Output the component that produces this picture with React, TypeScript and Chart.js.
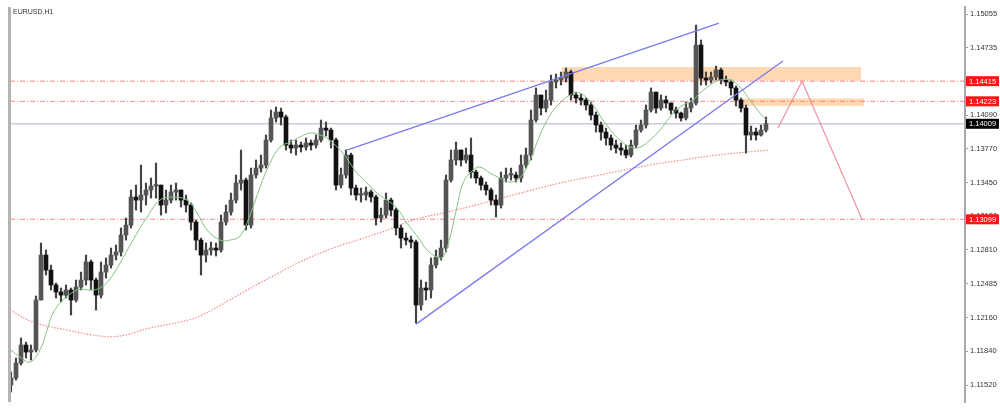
import React, { useEffect, useRef } from "react";
import { Chart, registerables } from "chart.js";

Chart.register(...registerables);

const symbolTitle = "EURUSD,H1";

// Candles (bar index 0..151). Open of each bar = previous close.
const firstOpen = 1.1152;
const closes = [
  1.11586, 1.11729, 1.11901, 1.11834, 1.11853, 1.1233, 1.12758, 1.12615, 1.12473, 1.12406,
  1.12377, 1.12425, 1.1233, 1.12453, 1.1252, 1.12692, 1.1252, 1.12377, 1.12596, 1.12663,
  1.12758, 1.12787, 1.12949, 1.13044, 1.13311, 1.13282, 1.1333, 1.13378, 1.13416, 1.13425,
  1.13235, 1.13282, 1.13359, 1.13378, 1.13282, 1.13235, 1.13073, 1.12901, 1.12758, 1.12806,
  1.12825, 1.12806, 1.13073, 1.13168, 1.13282, 1.13444, 1.13473, 1.13044, 1.13521, 1.13587,
  1.13616, 1.13854, 1.14064, 1.14121, 1.14073, 1.13806, 1.13778, 1.13806, 1.13787, 1.13826,
  1.13806, 1.13854, 1.13968, 1.13949, 1.13854, 1.13425, 1.13521, 1.13711, 1.13397, 1.1333,
  1.1333, 1.13359, 1.13311, 1.13111, 1.13139, 1.13282, 1.13187, 1.13016, 1.1292, 1.12901,
  1.12882, 1.12282, 1.12444, 1.12425, 1.12663, 1.12739, 1.12825, 1.13473, 1.13664, 1.13759,
  1.13664, 1.13711, 1.13549, 1.13492, 1.13425, 1.13378, 1.13282, 1.13235, 1.13492, 1.13521,
  1.13521, 1.13492, 1.13616, 1.13711, 1.14045, 1.14283, 1.14159, 1.14235, 1.14407, 1.14426,
  1.14445, 1.14502, 1.14283, 1.14254, 1.14235, 1.14188, 1.14092, 1.13997, 1.1393, 1.13873,
  1.13806, 1.13778, 1.13759, 1.13711, 1.13806, 1.13949, 1.13997, 1.1414, 1.14311, 1.14159,
  1.14235, 1.14207, 1.1414, 1.14111, 1.14064, 1.14159, 1.14207, 1.14759, 1.14445, 1.14426,
  1.14454, 1.14521, 1.14426, 1.14407, 1.1435, 1.14235, 1.14159, 1.13902, 1.1393, 1.13902,
  1.13949, 1.14009,
];
const highs = [
  1.11644, 1.11777, 1.11968, 1.11929, 1.11901, 1.12368, 1.12873, 1.12806, 1.12663, 1.12492,
  1.12444, 1.12473, 1.12444, 1.1252, 1.12596, 1.12758, 1.12711, 1.12539, 1.12692, 1.1273,
  1.12825, 1.12854, 1.13016, 1.13111, 1.13378, 1.13425, 1.13616, 1.13444, 1.13492, 1.13635,
  1.13425, 1.13378, 1.13425, 1.13444, 1.13378, 1.1333, 1.13254, 1.13092, 1.1292, 1.12873,
  1.12882, 1.12873, 1.13139, 1.13235, 1.13349, 1.13521, 1.13759, 1.13492, 1.13587, 1.13664,
  1.13711, 1.13902, 1.1414, 1.14169, 1.14159, 1.14092, 1.13854, 1.13854, 1.13835, 1.13873,
  1.13854, 1.13902, 1.14045, 1.14026, 1.13968, 1.13873, 1.13587, 1.13759, 1.1373, 1.13425,
  1.13397, 1.13406, 1.13378, 1.1333, 1.13206, 1.13349, 1.13301, 1.13206, 1.13044, 1.12968,
  1.12939, 1.12901, 1.1252, 1.12501, 1.1273, 1.12806, 1.12901, 1.13521, 1.13759, 1.13835,
  1.13759, 1.13778, 1.13873, 1.13568, 1.13511, 1.13454, 1.13397, 1.1333, 1.13549, 1.13587,
  1.13587, 1.13549, 1.13711, 1.13778, 1.1414, 1.1435, 1.14283, 1.1433, 1.14473, 1.14483,
  1.14502, 1.1454, 1.14521, 1.14311, 1.14292, 1.14254, 1.14216, 1.14121, 1.14026, 1.13968,
  1.13902, 1.13854, 1.13826, 1.13806, 1.13854, 1.13997, 1.14045, 1.14188, 1.1435, 1.14311,
  1.14283, 1.14273, 1.14207, 1.14169, 1.14121, 1.14216, 1.14254, 1.1495, 1.14807, 1.14502,
  1.14502, 1.14559, 1.1454, 1.14464, 1.14426, 1.14369, 1.14254, 1.14188, 1.13987, 1.13968,
  1.13997, 1.14073,
];
const lows = [
  1.11453, 1.11567, 1.1171, 1.11777, 1.11758, 1.11834, 1.1233, 1.12568, 1.12425, 1.12349,
  1.12311, 1.12349, 1.12187, 1.12311, 1.12425, 1.12473, 1.12425, 1.12234, 1.12349, 1.12539,
  1.12635, 1.12711, 1.12749, 1.12901, 1.13016, 1.13187, 1.13168, 1.13235, 1.13301, 1.13301,
  1.13139, 1.13159, 1.13254, 1.13282, 1.13216, 1.13168, 1.12997, 1.12806, 1.12568, 1.12692,
  1.12758, 1.12749, 1.12787, 1.13044, 1.13139, 1.13254, 1.13378, 1.12997, 1.13016, 1.13492,
  1.13549, 1.13587, 1.13835, 1.14026, 1.13997, 1.13759, 1.1373, 1.13711, 1.1374, 1.13759,
  1.13759, 1.13778, 1.13835, 1.13892, 1.13778, 1.13378, 1.13397, 1.13492, 1.1333, 1.13282,
  1.13263, 1.13282, 1.13263, 1.13044, 1.13073, 1.13111, 1.1313, 1.12949, 1.12825, 1.12854,
  1.12825, 1.1211, 1.12234, 1.1233, 1.12349, 1.12635, 1.12711, 1.12787, 1.13454, 1.13616,
  1.13606, 1.13635, 1.13492, 1.13444, 1.13378, 1.1333, 1.13235, 1.1312, 1.13206, 1.13454,
  1.13473, 1.13454, 1.13454, 1.13587, 1.13664, 1.14026, 1.14092, 1.14121, 1.14188, 1.1435,
  1.14378, 1.14407, 1.14235, 1.14207, 1.14188, 1.1414, 1.14045, 1.1393, 1.13854, 1.13806,
  1.13759, 1.1373, 1.13711, 1.13683, 1.13692, 1.13778, 1.1393, 1.13968, 1.14121, 1.14111,
  1.1414, 1.14159, 1.14102, 1.14064, 1.14035, 1.14045, 1.14121, 1.14188, 1.14378, 1.14378,
  1.14397, 1.14426, 1.14388, 1.14369, 1.14283, 1.14178, 1.14121, 1.1373, 1.13854, 1.13854,
  1.13892, 1.1393,
];

// Fast moving average (green)
const fastMaX = [
  0, 1.8, 3.8, 5.8, 7.2, 8.4, 10.4, 12.4, 13.8, 15.8, 17.8, 19.8, 21.8, 24.4, 27.2, 29.8, 32.4,
  35.2, 37.2, 39.2, 41.8, 43.8, 45.8, 47.8, 49.8, 51.8, 53.8, 55.8, 57.8, 59.8, 61.8, 63.2, 64.4,
  66.4, 67.8, 69.2, 71.2, 73.2, 75.2, 77.2, 79.2, 81.8, 83.2, 85.2, 86.4, 87.8, 89.2, 90.4, 92.4,
  93.8, 95.8, 97.8, 99.8, 101.8, 103.8, 105.8, 107.8, 109.8, 111.8, 113.8, 116.4, 118.4, 120.4,
  121.8, 123.8, 125.8, 127.8, 129.8, 131.8, 133.8, 136.4, 137.8, 140.4, 141.8, 143.8, 145.8,
  147.8, 149.8, 151,
];
const fastMaY = [
  1.11853, 1.11787, 1.11739, 1.11853, 1.12044, 1.12206, 1.1233, 1.12406, 1.12434, 1.12425,
  1.12444, 1.1253, 1.12682, 1.12901, 1.1312, 1.13282, 1.13311, 1.13282, 1.13159, 1.12997,
  1.12901, 1.12901, 1.12939, 1.13139, 1.13406, 1.13635, 1.13787, 1.13835, 1.13883, 1.13921,
  1.13902, 1.13873, 1.13826, 1.1373, 1.13635, 1.1354, 1.13444, 1.13349, 1.13282, 1.13206,
  1.13063, 1.12901, 1.12806, 1.12739, 1.12739, 1.1293, 1.13216, 1.13444, 1.13568, 1.13597,
  1.1354, 1.13492, 1.13454, 1.13492, 1.13664, 1.13902, 1.14092, 1.14207, 1.14283, 1.14302,
  1.14188, 1.14045, 1.13921, 1.13854, 1.13787, 1.13787, 1.13854, 1.13949, 1.14073, 1.14169,
  1.14235, 1.14302, 1.14397, 1.14426, 1.14426, 1.14359, 1.14235, 1.14111, 1.14045,
];

// Slow moving average (red dotted)
const slowMaX = [
  -0.2, 4.4, 11.2, 17.8, 21.8, 27.8, 33.8, 37.8, 44.4, 49.8, 57.8, 64.4, 71.2, 76.4, 80.4, 87.2,
  93.8, 100.4, 109.8, 117.8, 127.8, 134.4, 141.2, 151.4,
];
const slowMaY = [
  1.12234, 1.1212, 1.12044, 1.11987, 1.11987, 1.12063, 1.1212, 1.12177, 1.12349, 1.12492,
  1.12692, 1.12825, 1.1293, 1.13016, 1.13092, 1.13168, 1.13244, 1.1333, 1.13444, 1.13521,
  1.13616, 1.13664, 1.13711, 1.13759,
];

const yTickValues = [
  1.1152, 1.1184, 1.1216, 1.12485, 1.1281, 1.1313, 1.1345, 1.1377, 1.1409, 1.14415, 1.14735, 1.15055,
];
const yTickLabels = [
  "1.11520", "1.11840", "1.12160", "1.12485", "1.12810", "1.13130", "1.13450", "1.13770",
  "1.14090", "1.14415", "1.14735", "1.15055",
];

const levelPrices = [1.14415, 1.14223, 1.13099];
const levelLabels = ["1.14415", "1.14223", "1.13099"];
const currentPrice = 1.14009;
const currentLabel = "1.14009";

const upperChannelX = [67, 141.6];
const upperChannelY = [1.13755, 1.14969];
const lowerChannelX = [81, 154.4];
const lowerChannelY = [1.121, 1.14607];
const projectionX = [153.4, 158.2, 170.2];
const projectionY = [1.13968, 1.14415, 1.13099];

const zoneStartX = [110.2, 146.2];
const zoneEndX = [170, 170.6];
const zoneLow = [1.1442, 1.1418];
const zoneHigh = [1.1455, 1.1425];

const X_MIN = -0.2;
const X_MAX = 190.8;
const Y_MIN = 1.113581;
const Y_MAX = 1.151217;

const FONT = "'Liberation Sans', Arial, sans-serif";

export default function App() {
  const canvasRef = useRef<HTMLCanvasElement | null>(null);

  useEffect(() => {
    const canvas = canvasRef.current;
    if (!canvas) return;

    const opens = closes.map((c, i) => (i === 0 ? firstOpen : closes[i - 1]));
    const wickData = closes.map((_, i) => ({ x: i, y: [lows[i], highs[i]] }));
    const bodyData = closes.map((c, i) => ({ x: i, y: [opens[i], c] }));
    const pts = (xs: number[], ys: number[]) => xs.map((x, i) => ({ x, y: ys[i] }));
    const hLine = (p: number) => [
      { x: X_MIN, y: p },
      { x: X_MAX, y: p },
    ];

    const overlay = {
      id: "overlay",
      beforeDatasetsDraw(chart: any) {
        const { ctx, scales } = chart;
        const xs = scales.x;
        const ys = scales.y;
        ctx.save();
        ctx.fillStyle = "rgba(253, 212, 170, 0.9)";
        for (let k = 0; k < zoneStartX.length; k++) {
          const x0 = xs.getPixelForValue(zoneStartX[k]);
          const x1 = xs.getPixelForValue(zoneEndX[k]);
          const y0 = ys.getPixelForValue(zoneHigh[k]);
          const y1 = ys.getPixelForValue(zoneLow[k]);
          ctx.fillRect(x0, y0, x1 - x0, y1 - y0);
        }
        ctx.restore();
      },
      afterDraw(chart: any) {
        const { ctx, chartArea, scales } = chart;
        const ys = scales.y;
        ctx.save();
        ctx.fillStyle = "#b4b4b4";
        ctx.fillRect(chartArea.left - 2, chartArea.top, 3, chartArea.bottom - chartArea.top);
        ctx.fillStyle = "#333";
        ctx.font = `7px ${FONT}`;
        ctx.textBaseline = "middle";
        ctx.textAlign = "left";
        ctx.fillText(symbolTitle, chartArea.left + 3, chartArea.top + 5);
        const drawLabel = (p: number, text: string, bg: string) => {
          const yp = ys.getPixelForValue(p);
          ctx.fillStyle = bg;
          ctx.fillRect(chartArea.right + 1, yp - 5, 33, 10);
          ctx.fillStyle = "#ffffff";
          ctx.font = `7.5px ${FONT}`;
          ctx.textBaseline = "middle";
          ctx.textAlign = "left";
          ctx.fillText(text, chartArea.right + 4, yp + 0.5);
        };
        for (let k = 0; k < levelPrices.length; k++) drawLabel(levelPrices[k], levelLabels[k], "#ff1414");
        drawLabel(currentPrice, currentLabel, "#000000");
        ctx.restore();
      },
    };

    const redDash = "rgba(244, 96, 96, 0.75)";

    const chart = new Chart(canvas, {
      type: "bar",
      data: {
        datasets: [
          ...levelPrices.map((p) => ({
            type: "line" as const,
            data: hLine(p),
            borderColor: redDash,
            borderWidth: 1,
            borderDash: [5, 2, 1, 2],
            pointRadius: 0,
            order: 20,
          })),
          {
            type: "line" as const,
            data: hLine(currentPrice),
            borderColor: "#c9cdd8",
            borderWidth: 1.5,
            pointRadius: 0,
            order: 19,
          },
          {
            type: "line" as const,
            data: pts(slowMaX, slowMaY),
            borderColor: "rgba(240, 120, 120, 0.85)",
            borderWidth: 1.2,
            borderDash: [1.5, 1.5],
            pointRadius: 0,
            tension: 0.4,
            order: 15,
          },
          {
            type: "bar" as const,
            data: wickData as any,
            backgroundColor: "#444444",
            barThickness: 1.5,
            grouped: false,
            order: 12,
          },
          {
            type: "bar" as const,
            data: bodyData as any,
            backgroundColor: (ctx: any) => {
              const i = ctx.dataIndex;
              return closes[i] >= opens[i] ? "#555555" : "#111111";
            },
            barThickness: 4,
            minBarLength: 1.5,
            grouped: false,
            order: 11,
          },
          {
            type: "line" as const,
            data: pts(fastMaX, fastMaY),
            borderColor: "#84c384",
            borderWidth: 1,
            pointRadius: 0,
            tension: 0.4,
            order: 8,
          },
          {
            type: "line" as const,
            data: pts(upperChannelX, upperChannelY),
            borderColor: "#7a7af0",
            borderWidth: 1.3,
            pointRadius: 0,
            order: 5,
          },
          {
            type: "line" as const,
            data: pts(lowerChannelX, lowerChannelY),
            borderColor: "#7a7af0",
            borderWidth: 1.3,
            pointRadius: 0,
            order: 5,
          },
          {
            type: "line" as const,
            data: pts(projectionX, projectionY),
            borderColor: "rgba(240, 140, 158, 0.95)",
            borderWidth: 1.2,
            pointRadius: 0,
            order: 4,
          },
        ] as any,
      },
      options: {
        responsive: false,
        animation: false,
        events: [],
        layout: { padding: { top: 7, bottom: 8, left: 10, right: 0 } },
        plugins: { legend: { display: false }, tooltip: { enabled: false } },
        scales: {
          x: {
            type: "linear",
            min: X_MIN,
            max: X_MAX,
            offset: false,
            display: false,
          },
          y: {
            type: "linear",
            position: "right",
            min: Y_MIN,
            max: Y_MAX,
            afterBuildTicks: (s: any) => {
              s.ticks = yTickValues.map((v) => ({ value: v }));
            },
            afterFit: (s: any) => {
              s.width = 35;
            },
            ticks: {
              autoSkip: false,
              padding: 2,
              color: "#333",
              font: { family: FONT, size: 7.5 },
              callback: (_v: any, i: number) => yTickLabels[i],
            },
            grid: { drawOnChartArea: false, drawTicks: true, tickLength: 3, color: "#9a9a9a" },
            border: { display: true, color: "#a8a8a8", width: 2 },
          },
        },
      },
      plugins: [overlay],
    });

    return () => chart.destroy();
  }, []);

  return (
    <div style={{ position: "fixed", left: 0, top: 0, width: 1000, height: 410, background: "#fff" }}>
      <canvas ref={canvasRef} width={1000} height={410} />
    </div>
  );
}
